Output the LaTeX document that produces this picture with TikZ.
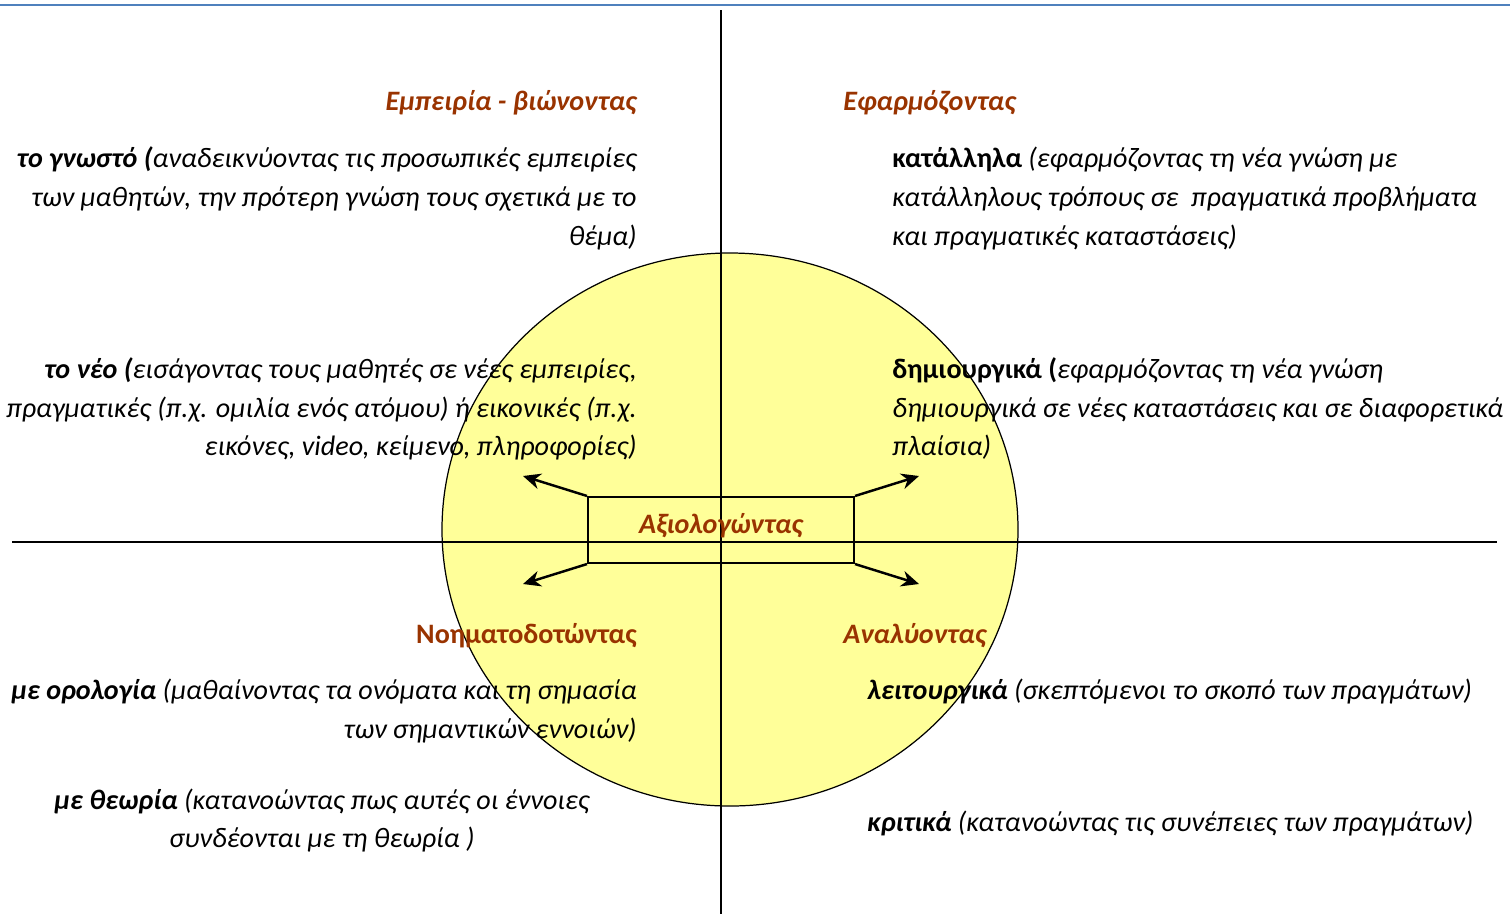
\documentclass[tikz,border=0pt]{standalone}
\usepackage{fontspec}
\setmainfont{Carlito}
\usetikzlibrary{arrows.meta,shapes.geometric}
\definecolor{headbrown}{HTML}{993300}
\definecolor{circyel}{HTML}{FFFF99}
\definecolor{topblue}{HTML}{4F81BD}
\begin{document}
\begin{tikzpicture}[x=0.02cm,y=-0.02cm,
  body/.style={inner sep=0pt,yshift=-5*0.02cm,font=\fontsize{16}{19}\selectfont\itshape},
  head/.style={inner sep=0pt,yshift=-5*0.02cm,font=\fontsize{16}{19}\selectfont\bfseries\itshape,text=headbrown},
  headup/.style={inner sep=0pt,yshift=-5*0.02cm,font=\fontsize{16}{19}\selectfont\bfseries,text=headbrown},
  axis/.style={line width=0.8pt},
  outarrow/.style={line width=1.4pt,-{Stealth[length=10pt,width=9pt]}}]
\useasboundingbox (0,0) rectangle (1510,914);
% top rule
\draw[topblue,line width=1.4pt] (0,5) -- (1510,5);
% circle
\node[ellipse,draw=black,line width=0.7pt,fill=circyel,minimum width=576*0.02cm,minimum height=553*0.02cm,inner sep=0pt] (circ) at (730,529.5) {};
% axes
\coordinate (vt) at (721,10);
\coordinate (vb) at (721,914);
\coordinate (hl) at (12,542);
\coordinate (hr) at (1497,542);
\draw[axis] (vt) -- (vb);
\draw[axis] (hl) -- (hr);
% central box
\node[draw,line width=1.2pt,minimum width=266*0.02cm,minimum height=66*0.02cm,inner sep=0pt] (ax) at (721,530) {};
\node[head] (axt) at (721,521) {Αξιολογώντας};
\coordinate (atl) at (523,476);
\coordinate (atr) at (919,476);
\coordinate (abl) at (523,584);
\coordinate (abr) at (919,584);
\draw[outarrow] (ax.north west) -- (atl);
\draw[outarrow] (ax.north east) -- (atr);
\draw[outarrow] (ax.south west) -- (abl);
\draw[outarrow] (ax.south east) -- (abr);
% top-left
\node[head,anchor=mid east] (h1) at (637,101) {Εμπειρία - βιώνοντας};
\node[body,anchor=mid east] (a1) at (637,158) {\textbf{το γνωστό (}αναδεικνύοντας τις προσωπικές εμπειρίες};
\node[body,anchor=mid east] (a2) at (637,197) {των μαθητών, την πρότερη γνώση τους σχετικά με το};
\node[body,anchor=mid east] (a3) at (637,236) {θέμα)};
\node[body,anchor=mid east] (b1) at (637,369) {\textbf{το νέο (}εισάγοντας τους μαθητές σε νέες εμπειρίες,};
\node[body,anchor=mid east] (b2) at (637,408) {πραγματικές (π.χ. ομιλία ενός ατόμου) ή εικονικές (π.χ.};
\node[body,anchor=mid east] (b3) at (637,446) {εικόνες, video, κείμενο, πληροφορίες)};
% top-right
\node[head,anchor=mid west] (h2) at (843,101) {Εφαρμόζοντας};
\node[body,anchor=mid west] (c1) at (892,158) {{\upshape\bfseries κατάλληλα} (εφαρμόζοντας τη νέα γνώση με};
\node[body,anchor=mid west] (c2) at (892,197) {κατάλληλους τρόπους σε \ πραγματικά προβλήματα};
\node[body,anchor=mid west] (c3) at (892,236) {και πραγματικές καταστάσεις)};
\node[body,anchor=mid west] (d1) at (892,369) {{\upshape\bfseries δημιουργικά (}εφαρμόζοντας τη νέα γνώση};
\node[body,anchor=mid west] (d2) at (892,408) {δημιουργικά σε νέες καταστάσεις και σε διαφορετικά};
\node[body,anchor=mid west] (d3) at (892,446) {πλαίσια)};
% bottom-left
\node[headup,anchor=mid east] (h3) at (637,634) {Νοηματοδοτώντας};
\node[body,anchor=mid east] (e1) at (637,690) {\textbf{με ορολογία} (μαθαίνοντας τα ονόματα και τη σημασία};
\node[body,anchor=mid east] (e2) at (637,729) {των σημαντικών εννοιών)};
\node[body] (f1) at (322,796) {\textbf{με θεωρία} (κατανοώντας πως αυτές οι έννοιες};
\node[body] (f2) at (322,834) {συνδέονται με τη θεωρία )};
% bottom-right
\node[head,anchor=mid west] (h4) at (843,634) {Αναλύοντας};
\node[body,anchor=mid west] (g1) at (867,690) {\textbf{λειτουργικά} (σκεπτόμενοι το σκοπό των πραγμάτων)};
\node[body,anchor=mid west] (g2) at (867,822) {\textbf{κριτικά} (κατανοώντας τις συνέπειες των πραγμάτων)};
\end{tikzpicture}
\end{document}
